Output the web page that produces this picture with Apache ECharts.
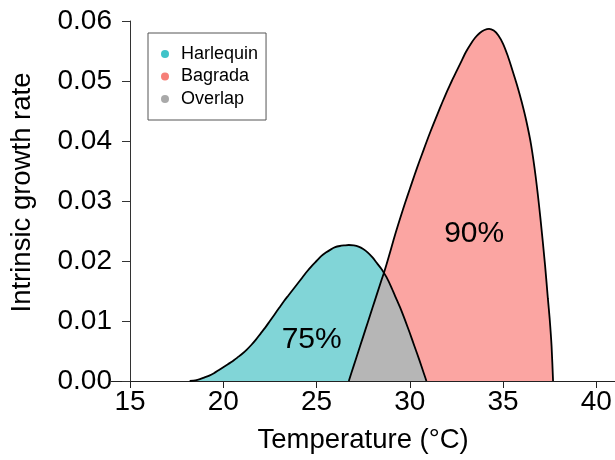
<!DOCTYPE html>
<html>
<head>
<meta charset="utf-8">
<script src="https://cdn.jsdelivr.net/npm/echarts@6/dist/echarts.min.js"></script>
<style>
  html, body { margin: 0; padding: 0; background: #fff; }
  #chart { width: 615px; height: 460px; }
</style>
</head>
<body>
<div id="chart"></div>
<script>
// Temperature axis ticks (°C)
const temperatureTicks = [15, 20, 25, 30, 35, 40];

// Thermal performance curves: [temperature °C, intrinsic growth rate]
const harlequinCurve = [
  [18.2, 0], [18.5, 0.0001], [18.75, 0.0003], [19, 0.0006], [19.25, 0.0009],
  [19.5, 0.0013], [19.75, 0.0018], [20, 0.0023], [20.25, 0.0028], [20.5, 0.0033],
  [20.75, 0.0039], [21, 0.0045], [21.25, 0.0052], [21.5, 0.006], [21.75, 0.0069],
  [22, 0.0079], [22.25, 0.0089], [22.5, 0.01], [22.75, 0.0111], [23, 0.0122],
  [23.25, 0.0133], [23.5, 0.0143], [23.75, 0.0153], [24, 0.0163], [24.25, 0.0173],
  [24.5, 0.0183], [24.75, 0.0192], [25, 0.02], [25.25, 0.0208], [25.5, 0.0214],
  [25.75, 0.0219], [26, 0.0223], [26.25, 0.0225], [26.5, 0.0226], [26.73, 0.02267],
  [27, 0.0226], [27.25, 0.0224], [27.5, 0.022], [27.75, 0.0214], [28, 0.0206],
  [28.25, 0.0196], [28.5, 0.0186], [28.61, 0.018], [28.75, 0.0173], [29, 0.0157],
  [29.25, 0.0139], [29.5, 0.0121], [29.75, 0.0101], [30, 0.008], [30.25, 0.0058],
  [30.5, 0.0036], [30.75, 0.0013], [30.89, 0]
];

const bagradaCurve = [
  [26.73, 0], [27, 0.0026], [27.25, 0.005], [27.5, 0.0074], [27.75, 0.0098],
  [28, 0.0122], [28.25, 0.0146], [28.5, 0.017], [28.61, 0.018], [28.75, 0.0194],
  [29, 0.0221], [29.25, 0.0248], [29.5, 0.0273], [29.75, 0.0297], [30, 0.032],
  [30.25, 0.0343], [30.5, 0.0365], [30.75, 0.0386], [30.89, 0.0398], [31, 0.0407],
  [31.25, 0.0427], [31.5, 0.0446], [31.75, 0.0465], [32, 0.0483], [32.25, 0.05],
  [32.5, 0.0516], [32.75, 0.0532], [33, 0.0548], [33.25, 0.0561], [33.5, 0.0572],
  [33.75, 0.058], [34, 0.0585], [34.25, 0.0587], [34.5, 0.0584], [34.75, 0.0576],
  [35, 0.0562], [35.25, 0.0542], [35.5, 0.0518], [35.75, 0.0493], [36, 0.0465],
  [36.25, 0.0433], [36.5, 0.0394], [36.75, 0.034], [37, 0.0272], [37.25, 0.0193],
  [37.4, 0.0138], [37.5, 0.0103], [37.6, 0.0058], [37.68, 0]
];

// Share of each species' curve area (text placed inside its region)
const areaLabels = [
  { text: '75%', temperature: 24.74, rate: 0.0068 },
  { text: '90%', temperature: 33.45, rate: 0.0246 }
];

// Overlap region: lower of the two curves where both are defined
const harlequinAt = new Map(harlequinCurve.map(([t, r]) => [t, r]));
const overlapCurve = bagradaCurve
  .filter(([t]) => harlequinAt.has(t))
  .map(([t, r]) => [t, Math.min(r, harlequinAt.get(t))]);

const FONT = '"Liberation Sans", Arial, Helvetica, sans-serif';
const COLORS = {
  harlequin: '#3fc3c8', harlequinFill: '#81d5d7',
  bagrada: '#f67f78', bagradaFill: '#fba5a2',
  overlap: '#a9a9a9', overlapFill: '#b6b6b6'
};

// Plot region spans 14–41 °C; the rate axis sits at 15 °C
const xMin = 14, xMax = 41;
const gridLeft = 111.3, gridWidth = 503.7;
const yAxisShift = -(15 - xMin) * gridWidth / (xMax - xMin);

function areaSeries(name, data, color, fill, smooth) {
  return {
    name, type: 'line', data, symbol: 'none', silent: true, smooth,
    color,
    itemStyle: { color },
    lineStyle: { width: 0, opacity: 0 },
    areaStyle: { color: fill, opacity: 1 },
    z: 2
  };
}
function outlineSeries(name, data) {
  return {
    name, type: 'line', data, symbol: 'none', silent: true, smooth: 0.25,
    lineStyle: { color: '#000', width: 1.8 },
    z: 3
  };
}

const chart = echarts.init(document.getElementById('chart'), null, { renderer: 'canvas' });
chart.setOption({
  animation: false,
  backgroundColor: '#fff',
  textStyle: { fontFamily: FONT },
  grid: { left: gridLeft, width: gridWidth, top: 21, height: 360 },
  legend: {
    orient: 'vertical',
    left: 148, top: 33,
    padding: [12, 8, 12, 13],
    itemGap: 4.5,
    itemWidth: 8, itemHeight: 8,
    borderColor: '#555', borderWidth: 1, borderRadius: 0,
    textStyle: { fontSize: 18, color: '#000', fontFamily: FONT, padding: [0, 0, 0, 7] },
    data: [
      { name: 'Harlequin', icon: 'circle', itemStyle: { color: COLORS.harlequin, borderWidth: 0 } },
      { name: 'Bagrada', icon: 'circle', itemStyle: { color: COLORS.bagrada, borderWidth: 0 } },
      { name: 'Overlap', icon: 'circle', itemStyle: { color: COLORS.overlap, borderWidth: 0 } }
    ]
  },
  xAxis: {
    type: 'value', min: xMin, max: xMax,
    name: 'Temperature (°C)', nameLocation: 'middle', nameGap: 45,
    nameTextStyle: { fontSize: 27.5, color: '#000', fontFamily: FONT },
    axisLine: { show: true, onZero: false, lineStyle: { color: '#222', width: 1 } },
    axisTick: { show: true, length: 7, customValues: temperatureTicks, lineStyle: { color: '#222' } },
    axisLabel: { customValues: temperatureTicks, fontSize: 28, color: '#000', margin: 7, fontFamily: FONT },
    splitLine: { show: false }
  },
  yAxis: {
    type: 'value', min: 0, max: 0.06, interval: 0.01,
    offset: yAxisShift,
    name: 'Intrinsic growth rate', nameLocation: 'middle', nameGap: 94, nameRotate: 90,
    nameTextStyle: { fontSize: 27.5, color: '#000', fontFamily: FONT, padding: [0, 0, 0, 17] },
    axisLine: { show: true, lineStyle: { color: '#333', width: 1 } },
    axisTick: { show: true, length: 8, lineStyle: { color: '#333' } },
    axisLabel: { fontSize: 28, color: '#000', margin: 18, fontFamily: FONT,
      formatter: v => v.toFixed(2) },
    splitLine: { show: false }
  },
  series: [
    areaSeries('Harlequin', harlequinCurve, COLORS.harlequin, COLORS.harlequinFill, 0.25),
    areaSeries('Bagrada', bagradaCurve, COLORS.bagrada, COLORS.bagradaFill, 0.25),
    areaSeries('Overlap', overlapCurve, COLORS.overlap, COLORS.overlapFill, false),
    outlineSeries('Harlequin curve', harlequinCurve),
    outlineSeries('Bagrada curve', bagradaCurve),
    {
      name: 'Area share', type: 'scatter', silent: true, z: 4,
      symbolSize: 1, itemStyle: { color: 'rgba(0,0,0,0)', opacity: 1 },
      data: areaLabels.map(d => ({ value: [d.temperature, d.rate], name: d.text })),
      label: {
        show: true, position: 'inside', formatter: p => p.name, opacity: 1,
        fontSize: 30, color: '#000', textBorderWidth: 0, fontFamily: FONT
      }
    }
  ]
});
</script>
</body>
</html>
